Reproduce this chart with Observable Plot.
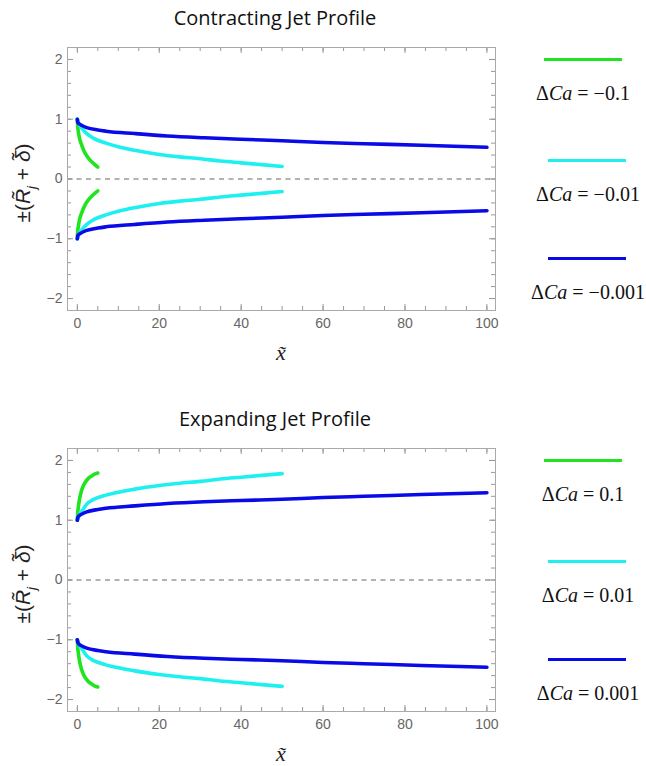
<!DOCTYPE html>
<html><head><meta charset="utf-8">
<script src="https://cdn.jsdelivr.net/npm/d3@7"></script>
<script src="https://cdn.jsdelivr.net/npm/@observablehq/plot@0.6"></script>
<style>
body{margin:0;background:#fff;}
#root{position:relative;width:646px;height:766px;overflow:hidden;font-family:"Liberation Sans",Arial,sans-serif;}
.title{position:absolute;font-family:"Open Sans",sans-serif;font-size:20px;color:#111;transform:translate(-50%,-50%);white-space:nowrap;}
.ylab{position:absolute;transform:translate(-50%,-50%) rotate(-90deg);font-size:21px;color:#222;white-space:nowrap;font-family:"Liberation Sans",Arial,sans-serif;}
.ylab sub{font-size:13px;}
.xlab{position:absolute;transform:translate(-50%,-50%);font-size:22px;font-style:italic;font-family:"Liberation Serif",serif;color:#222;}
.sw{position:absolute;height:3px;}
.leg{position:absolute;font-family:"Liberation Serif",serif;font-size:20px;color:#111;transform:translate(-50%,-50%);white-space:nowrap;}
.leg .eq{padding:0 5px;}
.plot{position:absolute;left:0;}
</style>
</head><body><div id="root"></div>
<script>
// ---- data ----
const titles = ["Contracting Jet Profile", "Expanding Jet Profile"];
const colors = ["#1ee51e", "#1ef0f0", "#0a0ae8"];
const contractLabels = ["−0.1", "−0.01", "−0.001"];
const expandLabels = ["0.1", "0.01", "0.001"];
const xTicks = [0, 20, 40, 60, 80, 100];
const yTicks = [-2, -1, 0, 1, 2];

// Contracting (upper branch; lower branch is its mirror)
const greenCX = [0, 0.1, 0.25, 0.5, 1, 1.5, 2, 2.7, 3.5, 4.2, 5];
const greenCY = [1, 0.87, 0.79, 0.69, 0.58, 0.49, 0.42, 0.35, 0.29, 0.245, 0.2];
const cyanCX = [0, 0.5, 1, 2.3, 4, 7, 10, 14, 20, 25, 30, 35, 40, 45, 50];
const cyanCY = [1, 0.91, 0.86, 0.76, 0.68, 0.6, 0.54, 0.48, 0.41, 0.37, 0.34, 0.30, 0.27, 0.24, 0.21];
const blueCX = [0, 0.1, 0.5, 1, 2.3, 5, 7, 14, 22, 31, 40, 50, 60, 70, 84, 100];
const blueCY = [1, 0.95, 0.92, 0.9, 0.86, 0.82, 0.8, 0.76, 0.72, 0.69, 0.665, 0.64, 0.61, 0.59, 0.565, 0.53];

// Expanding (upper branch; lower branch is its mirror)
const greenEX = [0, 0.1, 0.25, 0.5, 1, 1.5, 2, 2.7, 3.5, 4.2, 5];
const greenEY = [1, 1.13, 1.22, 1.34, 1.49, 1.58, 1.64, 1.70, 1.74, 1.77, 1.79];
const cyanEX = [0, 0.5, 1, 2.3, 4, 7, 10, 14, 20, 25, 30, 35, 40, 45, 50];
const cyanEY = [1, 1.09, 1.14, 1.27, 1.35, 1.42, 1.47, 1.52, 1.58, 1.62, 1.65, 1.69, 1.72, 1.75, 1.78];
const blueEX = [0, 0.1, 0.5, 1, 2.3, 5, 7, 14, 22, 31, 40, 50, 60, 70, 84, 100];
const blueEY = [1, 1.04, 1.08, 1.1, 1.14, 1.18, 1.2, 1.24, 1.28, 1.31, 1.33, 1.35, 1.38, 1.40, 1.43, 1.46];

// ---- build ----
const root = document.getElementById("root");
function el(tag, cls, html, style) {
  const e = document.createElement(tag);
  if (cls) e.className = cls;
  if (html != null) e.innerHTML = html;
  Object.assign(e.style, style || {});
  root.appendChild(e);
  return e;
}
function toRows(xs, ys, sign) { return xs.map((x, i) => ({x, y: sign * ys[i]})); }
const fmt = d => d < 0 ? "−" + Math.abs(d) : String(d);

const W = 510, H = 310, mL = 67, mR = W - 495, mT = 17, mB = 30;
const FH = H - mT - mB, FW = W - mL - mR;
const xMinor = d3.range(0, 101, 5);
const yMinor = d3.range(-20, 21, 2).map(v => v / 10);

function panel(top, seriesX, seriesY) {
  const marks = [
    Plot.ruleY([0], {stroke: "#999", strokeWidth: 1.5, strokeDasharray: "5,4.5"}),
  ];
  seriesX.forEach((xs, i) => {
    const ys = seriesY[i];
    for (const s of [1, -1]) {
      marks.push(Plot.line(toRows(xs, ys, s), {x: "x", y: "y", stroke: colors[i], strokeWidth: 3.6, curve: "monotone-x"}));
    }
  });
  const tickStyle = {stroke: "#999", strokeWidth: 1};
  marks.push(
    Plot.tickX(xMinor, {x: d => d, ...tickStyle, insetTop: FH - 4}),
    Plot.tickX(xTicks, {x: d => d, ...tickStyle, insetTop: FH - 6}),
    Plot.tickX(xMinor, {x: d => d, ...tickStyle, insetBottom: FH - 4}),
    Plot.tickX(xTicks, {x: d => d, ...tickStyle, insetBottom: FH - 6}),
    Plot.tickY(yMinor, {y: d => d, ...tickStyle, insetRight: FW - 4}),
    Plot.tickY(yTicks, {y: d => d, ...tickStyle, insetRight: FW - 6}),
    Plot.tickY(yMinor, {y: d => d, ...tickStyle, insetLeft: FW - 4}),
    Plot.tickY(yTicks, {y: d => d, ...tickStyle, insetLeft: FW - 6}),
    Plot.frame({stroke: "#aaa", strokeWidth: 1}),
    Plot.axisX(xTicks, {tickSize: 0, tickPadding: 8, fontSize: 14, fill: "#666", label: null, tickFormat: fmt}),
    Plot.axisY(yTicks, {tickSize: 0, tickPadding: 5, fontSize: 14, fill: "#666", label: null, tickFormat: fmt})
  );
  const svg = Plot.plot({
    width: W, height: H,
    marginLeft: mL, marginRight: mR, marginTop: mT, marginBottom: mB,
    x: {domain: [-2.4, 102.1]},
    y: {domain: [-2.2, 2.2]},
    style: {fontFamily: "'Liberation Sans', Arial, sans-serif", background: "transparent"},
    marks
  });
  svg.classList.add("plot");
  svg.style.top = top + "px";
  root.appendChild(svg);
}

function decorate(top, title, labels) {
  const fTop = top + mT, fMid = fTop + FH / 2;
  el("div", "title", title, {left: "275px", top: (fTop - 30) + "px"});
  el("div", "ylab", "±(<i>R̃</i><sub><i>j</i></sub> + <i>δ̃</i>)", {left: "25px", top: (fMid + 4) + "px"});
  el("div", "xlab", "x̃", {left: "281px", top: (fTop + FH + 43) + "px"});
  const swY = [fTop + 12, fTop + 113, fTop + 211];
  const swX = [[544, 622], [548, 626], [548, 626]];
  const lbX = [583, 588, 588];
  labels.forEach((lab, i) => {
    el("div", "sw", "", {left: swX[i][0] + "px", width: (swX[i][1] - swX[i][0]) + "px", top: (swY[i] - 1.5) + "px", background: colors[i]});
    el("div", "leg", "Δ<i>Ca</i><span class='eq'>=</span>" + lab, {left: lbX[i] + "px", top: (swY[i] + 34) + "px"});
  });
}

panel(30, [greenCX, cyanCX, blueCX], [greenCY, cyanCY, blueCY]);
panel(431, [greenEX, cyanEX, blueEX], [greenEY, cyanEY, blueEY]);
decorate(30, titles[0], contractLabels);
decorate(431, titles[1], expandLabels);
</script>
</body></html>
